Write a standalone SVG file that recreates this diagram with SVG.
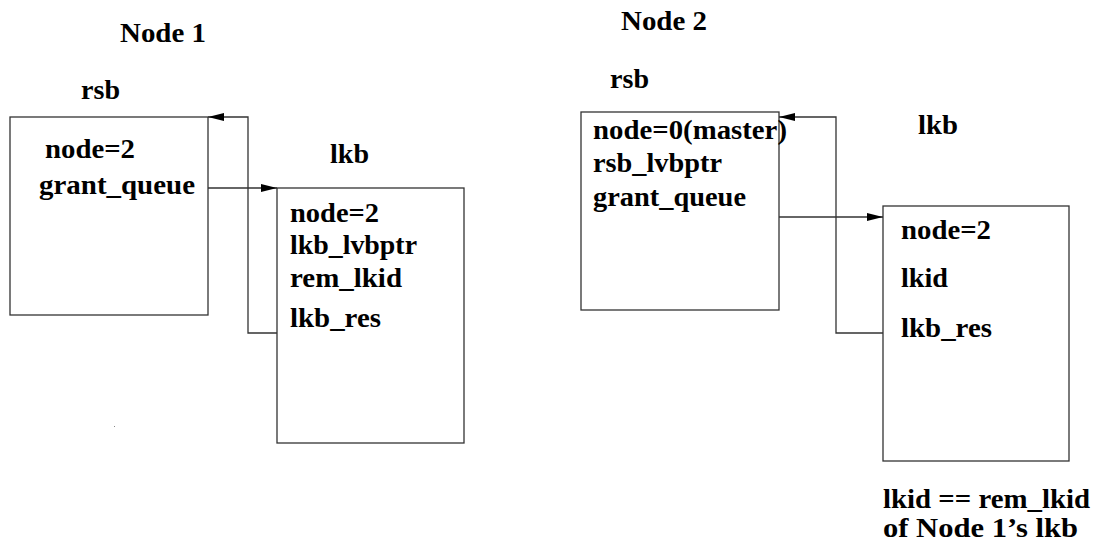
<svg xmlns="http://www.w3.org/2000/svg" width="1098" height="554" viewBox="0 0 1098 554">
  <defs>
    <style>
      text { font-family: "Liberation Serif", "Times New Roman", serif; font-weight: bold; font-size: 27px; fill: #000; }
      .box { fill: #fff; stroke: #333; stroke-width: 1.3; }
      .wire { fill: none; stroke: #333; stroke-width: 1.3; }
    </style>
    <marker id="arrow" viewBox="0 0 16 8" refX="16" refY="4" markerWidth="16" markerHeight="8" markerUnits="userSpaceOnUse" orient="auto">
      <path d="M0,0 L16,4 L0,8 Z" fill="#000"/>
    </marker>
  </defs>

  <rect width="1098" height="554" fill="#fff"/>

  <!-- headings -->
  <text x="120" y="42" textLength="86" lengthAdjust="spacingAndGlyphs">Node 1</text>
  <text x="621" y="30" textLength="86" lengthAdjust="spacingAndGlyphs">Node 2</text>

  <!-- Node 1 rsb -->
  <g id="n1-rsb">
    <text x="81" y="99" textLength="39" lengthAdjust="spacingAndGlyphs">rsb</text>
    <rect class="box" x="10" y="117" width="198" height="198"/>
    <text x="45" y="158" textLength="90" lengthAdjust="spacingAndGlyphs">node=2</text>
    <text x="39" y="194" textLength="156" lengthAdjust="spacingAndGlyphs">grant_queue</text>
  </g>

  <!-- Node 1 lkb -->
  <g id="n1-lkb">
    <text x="330" y="163" textLength="39" lengthAdjust="spacingAndGlyphs">lkb</text>
    <rect class="box" x="277" y="188" width="187" height="255"/>
    <text x="290" y="222" textLength="89" lengthAdjust="spacingAndGlyphs">node=2</text>
    <text x="290" y="254" textLength="127" lengthAdjust="spacingAndGlyphs">lkb_lvbptr</text>
    <text x="290" y="287" textLength="112" lengthAdjust="spacingAndGlyphs">rem_lkid</text>
    <text x="290" y="327" textLength="91" lengthAdjust="spacingAndGlyphs">lkb_res</text>
  </g>

  <!-- Node 2 rsb -->
  <g id="n2-rsb">
    <text x="610" y="88" textLength="39" lengthAdjust="spacingAndGlyphs">rsb</text>
    <rect class="box" x="581" y="112" width="198" height="198"/>
    <text x="593" y="139" textLength="194" lengthAdjust="spacingAndGlyphs">node=0(master)</text>
    <text x="593" y="172" textLength="129" lengthAdjust="spacingAndGlyphs">rsb_lvbptr</text>
    <text x="593" y="206" textLength="153" lengthAdjust="spacingAndGlyphs">grant_queue</text>
  </g>

  <!-- Node 2 lkb -->
  <g id="n2-lkb">
    <text x="918" y="134" textLength="40" lengthAdjust="spacingAndGlyphs">lkb</text>
    <rect class="box" x="883" y="206" width="186" height="255"/>
    <text x="901" y="239" textLength="90" lengthAdjust="spacingAndGlyphs">node=2</text>
    <text x="901" y="287" textLength="47" lengthAdjust="spacingAndGlyphs">lkid</text>
    <text x="901" y="337" textLength="91" lengthAdjust="spacingAndGlyphs">lkb_res</text>
  </g>

  <!-- note under Node 2 lkb -->
  <g id="note">
    <text x="883" y="508" textLength="207" lengthAdjust="spacingAndGlyphs">lkid == rem_lkid</text>
    <text x="883" y="537" textLength="195" lengthAdjust="spacingAndGlyphs">of Node 1’s lkb</text>
  </g>

  <!-- pointers -->
  <g id="connectors">
    <path class="wire" d="M208,188 H277" marker-end="url(#arrow)"/>
    <path class="wire" d="M277,333 H248 V117 H208" marker-end="url(#arrow)"/>
    <path class="wire" d="M779,217 H883" marker-end="url(#arrow)"/>
    <path class="wire" d="M883,333 H836 V117 H779" marker-end="url(#arrow)"/>
  </g>

  <rect x="114" y="426" width="1" height="1" fill="#888"/>
</svg>
